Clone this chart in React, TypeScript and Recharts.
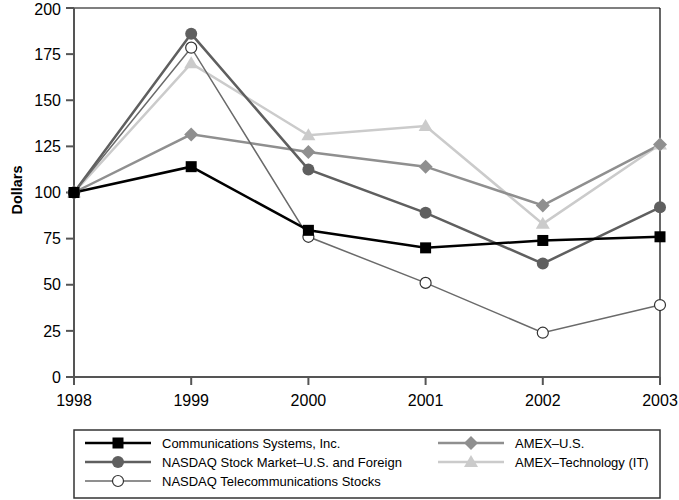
import React from 'react';
import { LineChart, Line, XAxis, YAxis, ReferenceLine } from 'recharts';

const years = ['1998', '1999', '2000', '2001', '2002', '2003'];
const commSystems = [100, 114, 79.5, 70, 74, 76];
const nasdaqUS = [100, 186, 112.5, 89, 61.5, 92];
const nasdaqTelecom = [100, 178.5, 76, 51, 24, 39];
const amexUS = [100, 131.5, 122, 114, 93, 126];
const amexTech = [100, 170, 131, 136, 83, 126];
const yTicks = [0, 25, 50, 75, 100, 125, 150, 175, 200];

const data = years.map((y, i) => ({
  year: y,
  comm: commSystems[i],
  nasdaqUS: nasdaqUS[i],
  telecom: nasdaqTelecom[i],
  amexUS: amexUS[i],
  amexTech: amexTech[i],
}));

const C_COMM = '#000000';
const C_NUS = '#5f5f5f';
const C_TEL = '#6a6a6a';
const C_AUS = '#8f8f8f';
const C_ATECH = '#cbcbcb';

const Square = (props: any) => {
  const { cx, cy } = props;
  if (cx == null || cy == null) return null;
  return <rect x={cx - 5.5} y={cy - 5.5} width={11} height={11} fill={C_COMM} />;
};
const FilledCircle = (props: any) => {
  const { cx, cy } = props;
  if (cx == null || cy == null) return null;
  return <circle cx={cx} cy={cy} r={6} fill={C_NUS} />;
};
const OpenCircle = (props: any) => {
  const { cx, cy } = props;
  if (cx == null || cy == null) return null;
  return <circle cx={cx} cy={cy} r={5.5} fill="#fff" stroke="#333" strokeWidth={1.2} />;
};
const Diamond = (props: any) => {
  const { cx, cy } = props;
  if (cx == null || cy == null) return null;
  const s = 7;
  return <polygon points={`${cx},${cy - s} ${cx + s},${cy} ${cx},${cy + s} ${cx - s},${cy}`} fill={C_AUS} />;
};
const Triangle = (props: any) => {
  const { cx, cy } = props;
  if (cx == null || cy == null) return null;
  return <polygon points={`${cx},${cy - 7} ${cx + 7},${cy + 5} ${cx - 7},${cy + 5}`} fill={C_ATECH} />;
};

const legendItems = [
  { label: 'Communications Systems, Inc.', color: C_COMM, width: 2.5, marker: 'square', col: 0, row: 0 },
  { label: 'NASDAQ Stock Market\u2013U.S. and Foreign', color: C_NUS, width: 2.5, marker: 'fcircle', col: 0, row: 1 },
  { label: 'NASDAQ Telecommunications Stocks', color: C_TEL, width: 1.5, marker: 'ocircle', col: 0, row: 2 },
  { label: 'AMEX\u2013U.S.', color: C_AUS, width: 2.5, marker: 'diamond', col: 1, row: 0 },
  { label: 'AMEX\u2013Technology (IT)', color: C_ATECH, width: 2.5, marker: 'triangle', col: 1, row: 1 },
];

const renderMarker = (m: string, cx: number, cy: number) => {
  switch (m) {
    case 'square':
      return <Square cx={cx} cy={cy} />;
    case 'fcircle':
      return <FilledCircle cx={cx} cy={cy} />;
    case 'ocircle':
      return <OpenCircle cx={cx} cy={cy} />;
    case 'diamond':
      return <Diamond cx={cx} cy={cy} />;
    default:
      return <Triangle cx={cx} cy={cy} />;
  }
};

const DollarsLabel = () => (
  <text
    x={17}
    y={190}
    transform="rotate(-90, 17, 190)"
    textAnchor="middle"
    dominantBaseline="central"
    fontSize={14.5}
    fontWeight="bold"
    fontFamily="'Liberation Sans', Arial, sans-serif"
    fill="#000"
  >
    Dollars
  </text>
);

export default function App() {
  const font = "'Liberation Sans', Arial, sans-serif";
  return (
    <div style={{ position: 'absolute', left: 0, top: 0, width: 679, height: 500, background: '#fff', overflow: 'hidden' }}>
      <LineChart
        width={679}
        height={500}
        data={data}
        margin={{ top: 8, right: 19, bottom: 0, left: 0 }}
        style={{ overflow: 'visible' }}
      >
        <XAxis
          dataKey="year"
          height={123}
          tickSize={8}
          tickMargin={10}
          stroke="#555"
          strokeWidth={2}
          tick={{ fill: '#000', fontSize: 16, fontFamily: font }}
          interval={0}
        />
        <YAxis
          domain={[0, 200]}
          ticks={yTicks}
          width={74}
          tickSize={8}
          tickMargin={5}
          stroke="#555"
          strokeWidth={2}
          tick={{ fill: '#000', fontSize: 16, fontFamily: font }}
          label={<DollarsLabel />}
        />
        <ReferenceLine y={200} stroke="#000" strokeWidth={1.2} />
        <ReferenceLine x="2003" stroke="#000" strokeWidth={1.2} />
        <Line dataKey="amexTech" stroke={C_ATECH} strokeWidth={2.5} dot={<Triangle />} activeDot={false} isAnimationActive={false} />
        <Line dataKey="amexUS" stroke={C_AUS} strokeWidth={2.5} dot={<Diamond />} activeDot={false} isAnimationActive={false} />
        <Line dataKey="nasdaqUS" stroke={C_NUS} strokeWidth={2.5} dot={<FilledCircle />} activeDot={false} isAnimationActive={false} />
        <Line dataKey="telecom" stroke={C_TEL} strokeWidth={1.5} dot={<OpenCircle />} activeDot={false} isAnimationActive={false} />
        <Line dataKey="comm" stroke={C_COMM} strokeWidth={2.5} dot={<Square />} activeDot={false} isAnimationActive={false} />
      </LineChart>
      <svg
        width={588}
        height={70}
        style={{ position: 'absolute', left: 73, top: 429 }}
      >
        <rect x={1} y={1} width={586} height={68} fill="#fff" stroke="#333" strokeWidth={1.5} />
        {legendItems.map((it) => {
          const x0 = it.col === 0 ? 12 : 365;
          const cy = 14 + it.row * 19;
          return (
            <g key={it.label}>
              <line x1={x0} x2={x0 + 66} y1={cy} y2={cy} stroke={it.color} strokeWidth={it.width} />
              {renderMarker(it.marker, x0 + 33, cy)}
              <text
                x={x0 + 77}
                y={cy}
                dominantBaseline="central"
                fontSize={13}
                fontFamily={font}
                fill="#000"
              >
                {it.label}
              </text>
            </g>
          );
        })}
      </svg>
    </div>
  );
}
